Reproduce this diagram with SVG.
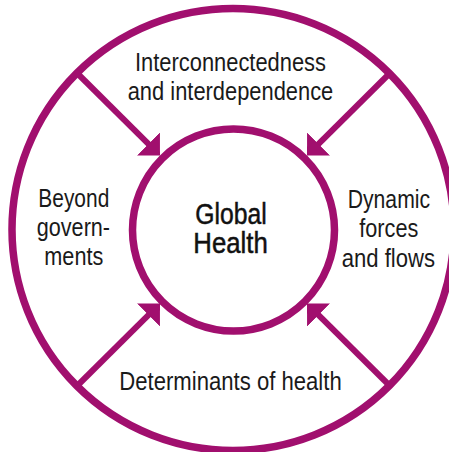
<svg xmlns="http://www.w3.org/2000/svg" width="449" height="452" viewBox="0 0 449 452">
  <style>
    .ring { fill: none; stroke: #A10F6E; stroke-width: 7.5; }
    .conn { fill: none; stroke: #A10F6E; stroke-width: 6; }
    .lbl { font-family: "Liberation Sans", "DejaVu Sans", sans-serif; font-size: 25px; fill: #1a1a1a; text-anchor: middle; }
    .ctr { font-family: "Liberation Sans", "DejaVu Sans", sans-serif; font-size: 29px; fill: #111; stroke: #111; stroke-width: 0.5; text-anchor: middle; }
  </style>
  <defs>
    <marker id="head" markerUnits="userSpaceOnUse" viewBox="0 0 17 33" markerWidth="17" markerHeight="33" refX="6.3" refY="16.3" orient="auto">
      <path d="M0,0 L16.3,16.3 L0,32.6 Z" fill="#A10F6E"/>
    </marker>
  </defs>
  <rect width="449" height="452" fill="#ffffff"/>

  <g id="outer-ring">
    <circle class="ring" cx="233" cy="229.5" r="221"/>
  </g>

  <g id="connectors">
    <line class="conn" x1="76.5" y1="72.5" x2="152.9" y2="148.4" marker-end="url(#head)"/>
    <line class="conn" x1="390.5" y1="72.5" x2="314.1" y2="148.4" marker-end="url(#head)"/>
    <line class="conn" x1="76.5" y1="386.5" x2="152.9" y2="310.6" marker-end="url(#head)"/>
    <line class="conn" x1="390.5" y1="386.5" x2="314.1" y2="310.6" marker-end="url(#head)"/>
  </g>

  <g id="global-health">
    <circle class="ring" cx="233.5" cy="230" r="101"/>
    <text class="ctr" x="231" y="224" textLength="71.5" lengthAdjust="spacingAndGlyphs">Global</text>
    <text class="ctr" x="230.5" y="253.3" textLength="74.4" lengthAdjust="spacingAndGlyphs">Health</text>
  </g>

  <g id="interconnectedness">
    <text class="lbl" x="230.5" y="70.7" textLength="191" lengthAdjust="spacingAndGlyphs">Interconnectedness</text>
    <text class="lbl" x="230.5" y="99.5" textLength="205.6" lengthAdjust="spacingAndGlyphs">and interdependence</text>
  </g>

  <g id="beyond-governments">
    <text class="lbl" x="73.8" y="206.7" textLength="71" lengthAdjust="spacingAndGlyphs">Beyond</text>
    <text class="lbl" x="73.4" y="235.5" textLength="73.3" lengthAdjust="spacingAndGlyphs">govern-</text>
    <text class="lbl" x="73.8" y="264.8" textLength="59" lengthAdjust="spacingAndGlyphs">ments</text>
  </g>

  <g id="dynamic-forces">
    <text class="lbl" x="388.9" y="208.3" textLength="82.3" lengthAdjust="spacingAndGlyphs">Dynamic</text>
    <text class="lbl" x="388.8" y="237.3" textLength="59" lengthAdjust="spacingAndGlyphs">forces</text>
    <text class="lbl" x="388.4" y="266.7" textLength="93.3" lengthAdjust="spacingAndGlyphs">and flows</text>
  </g>

  <g id="determinants">
    <text class="lbl" x="230.5" y="390" textLength="222.4" lengthAdjust="spacingAndGlyphs">Determinants of health</text>
  </g>
</svg>
